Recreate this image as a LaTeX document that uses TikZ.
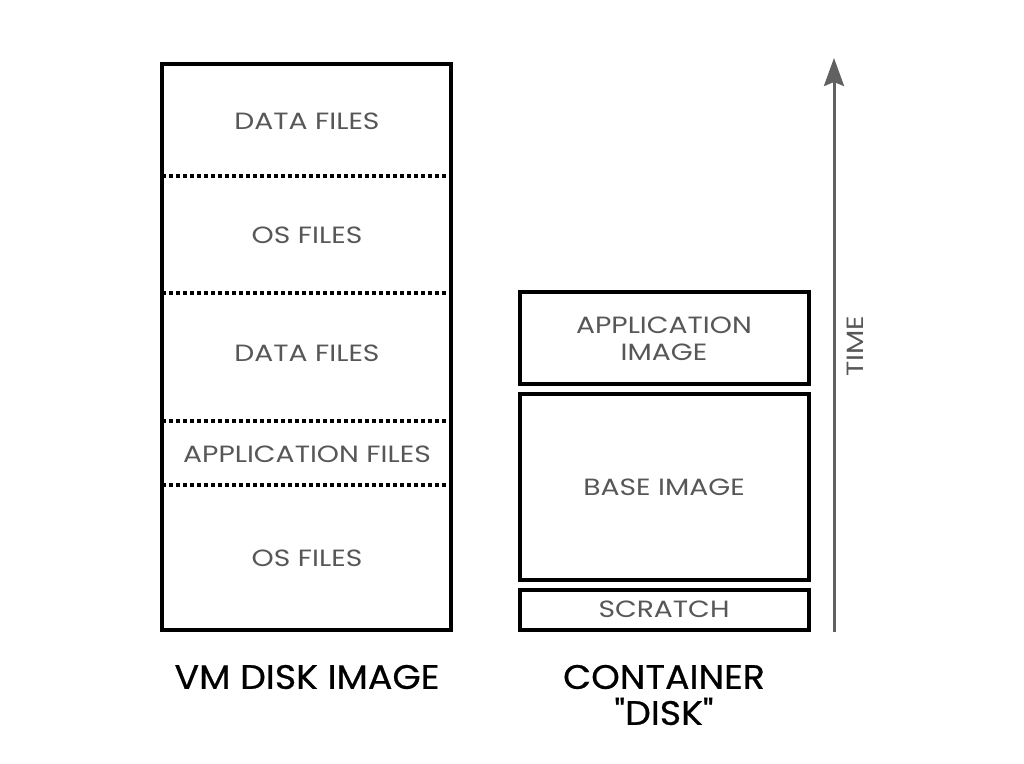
\documentclass[tikz,border=0pt]{standalone}
\usepackage{fontspec}
\setmainfont{Poppins}[Ligatures=TeXOff]
\newfontfamily\lblfont{Poppins}[Ligatures=TeXOff,FakeStretch=1.2]
\newfontfamily\ttlfont{Poppins}[Ligatures=TeXOff,FakeStretch=1.07,FakeBold=0.6]
\usetikzlibrary{arrows.meta}
\begin{document}
\begin{tikzpicture}[x=1pt,y=-1pt,
  box/.style={draw=black,line width=3.4pt},
  sep/.style={draw=black,line width=3.4pt,dash pattern=on 4pt off 3pt},
  lbl/.style={text=black!66,font=\lblfont\fontsize{23.5}{27}\selectfont,align=center,inner sep=0pt},
  ttl/.style={text=black,font=\ttlfont\fontsize{34}{36}\selectfont,align=center,inner sep=0pt},
  timearrow/.style={draw=black!62,line width=3pt,-{Stealth[width=20pt,length=28pt,inset=4pt]}}]
\useasboundingbox (0,0) rectangle (1024,763);
\fill[white] (0,0) rectangle (1024,763);
% VM disk image
\node[box,minimum width=289pt,minimum height=566pt,inner sep=0pt] (vm) at (306.5,347) {};
\coordinate (s1l) at (162,176); \coordinate (s1r) at (451,176);
\coordinate (s2l) at (162,293); \coordinate (s2r) at (451,293);
\coordinate (s3l) at (162,421); \coordinate (s3r) at (451,421);
\coordinate (s4l) at (162,485); \coordinate (s4r) at (451,485);
\draw[sep] (s1l) -- (s1r);
\draw[sep] (s2l) -- (s2r);
\draw[sep] (s3l) -- (s3r);
\draw[sep] (s4l) -- (s4r);
\node[lbl] (d1) at (307,121) {DATA FILES};
\node[lbl] (o1) at (307,235) {OS FILES};
\node[lbl] (d2) at (307,353) {DATA FILES};
\node[lbl] (a1) at (307,454) {APPLICATION FILES};
\node[lbl] (o2) at (307,558) {OS FILES};
\node[ttl] (vmt) at (307,677) {VM DISK IMAGE};
% container
\node[box,minimum width=289pt,minimum height=92pt,inner sep=0pt] (app) at (664.5,338) {};
\node[box,minimum width=289pt,minimum height=186pt,inner sep=0pt] (base) at (664.5,487) {};
\node[box,minimum width=289pt,minimum height=40pt,inner sep=0pt] (scr) at (664.5,610) {};
\node[lbl] (appt) at (664,339) {APPLICATION\\IMAGE};
\node[lbl] (baset) at (664,487) {BASE IMAGE};
\node[lbl] (scrt) at (664,609) {SCRATCH};
\node[ttl] (ct) at (664,695) {CONTAINER\\"DISK"};
% time arrow
\coordinate (tb) at (834,632);
\coordinate (tt) at (834,58);
\draw[timearrow] (tb) -- (tt);
\node[lbl,rotate=90] (time) at (855,346) {TIME};
\end{tikzpicture}
\end{document}
